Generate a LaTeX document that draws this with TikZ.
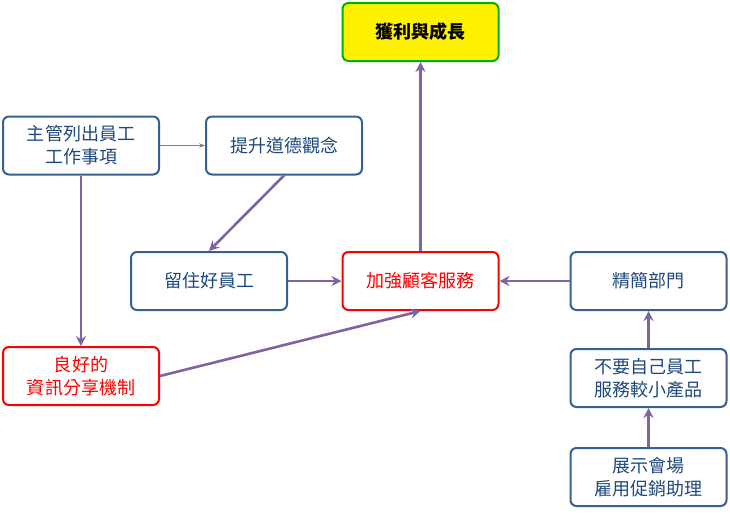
\documentclass[tikz,border=0pt]{standalone}
\usepackage{fontspec}
\setmainfont{Noto Sans CJK TC}
\usetikzlibrary{arrows.meta}
\definecolor{boxblue}{RGB}{54,96,146}
\definecolor{txtblue}{RGB}{31,73,125}
\definecolor{arrowpurple}{RGB}{128,100,162}
\begin{document}
\begin{tikzpicture}[x=1pt,y=-1pt]
\tikzstyle{bluebox} = [draw=boxblue,line width=2pt,rounded corners=6pt,minimum width=156pt,minimum height=58pt,align=center,text=txtblue,font=\fontsize{18}{23}\selectfont,fill=white];
\tikzstyle{redbox} = [bluebox,draw=red,text=red];
\tikzstyle{flow} = [-{Stealth[length=10pt,width=10pt]},line width=2.6pt,draw=arrowpurple];
\useasboundingbox (0,0) rectangle (730,515);

\node[bluebox,draw=green!70!black,fill=yellow,text=black,font=\fontsize{18}{23}\selectfont\bfseries] (goal) at (420.5,32) {獲利與成長};
\node[bluebox] (list) at (81,145.5) {主管列出員工\\工作事項};
\node[bluebox] (ethic) at (284,145.5) {提升道德觀念};
\node[bluebox] (keep) at (209,281) {留住好員工};
\node[redbox] (service) at (420.5,281) {加強顧客服務};
\node[bluebox] (slim) at (648.5,281) {精簡部門};
\node[redbox] (share) at (81,376) {良好的\\資訊分享機制};
\node[bluebox] (small) at (648.5,378) {不要自己員工\\服務較小產品};
\node[bluebox] (expo) at (648.5,477) {展示會場\\雇用促銷助理};

\draw[-{Stealth[length=6pt]},gray,line width=0.6pt] (list) -- (ethic);
\draw[flow] (list) -- (share);
\draw[flow] (ethic.south) -- (keep.north);
\draw[flow] (keep) -- (service);
\draw[flow] (slim) -- (service);
\draw[flow] (service) -- (goal);
\draw[flow] (share.east) -- (service.south);
\draw[flow] (small) -- (slim);
\draw[flow] (expo) -- (small);
\end{tikzpicture}
\end{document}
